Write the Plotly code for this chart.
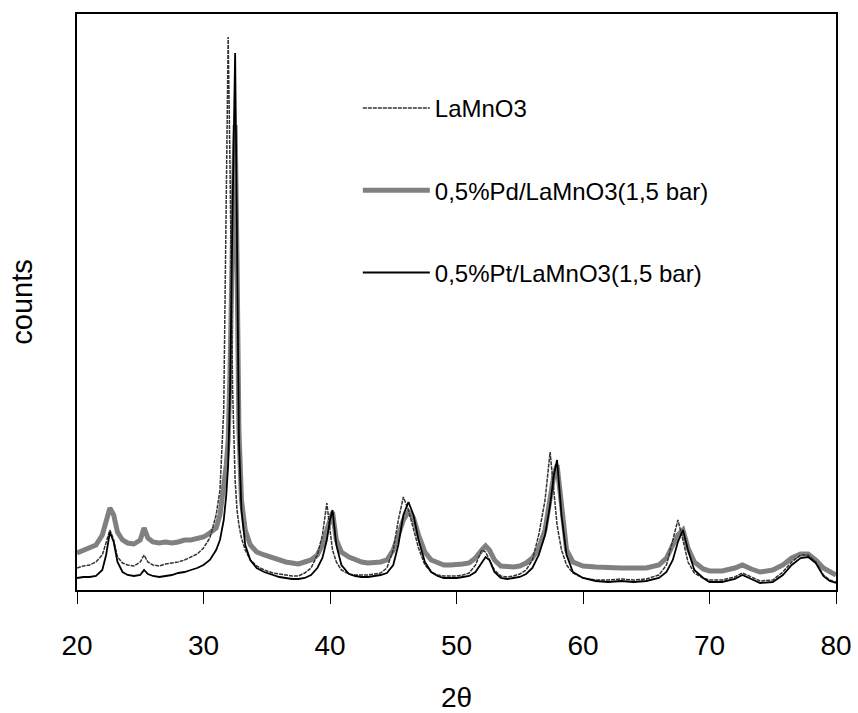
import plotly.graph_objects as go

two_theta = [20, 20.5, 21, 21.5, 22, 22.3, 22.6, 22.9, 23.2, 23.6, 24, 24.5, 25, 25.3, 25.6, 26, 26.5, 27, 27.5, 28,
             28.5, 29, 29.5, 30, 30.5, 31, 31.3, 31.6, 31.8, 31.95, 32.1, 32.3, 32.5, 32.65, 32.8, 33, 33.3, 33.7, 34.2, 34.8,
             35.5, 36, 36.5, 37, 37.5, 38, 38.5, 39, 39.4, 39.75, 40.0, 40.2, 40.5, 40.9, 41.5, 42, 42.5, 43, 43.5, 44,
             44.5, 45, 45.4, 45.8, 46.2, 46.6, 47, 47.5, 48, 48.5, 49, 49.5, 50, 50.5, 51, 51.5, 52, 52.3, 52.6, 53,
             53.5, 54, 54.5, 55, 55.5, 56, 56.5, 57, 57.4, 57.7, 57.95, 58.3, 58.7, 59.2, 60, 61, 62, 63, 64, 65,
             66, 66.6, 67.1, 67.5, 67.9, 68.3, 68.8, 69.5, 70, 71, 72, 72.6, 73.3, 74, 75, 75.8, 76.5, 77.2, 77.8, 78.4,
             79, 79.5, 80]

lamno3 = [22, 24, 25, 28, 35, 48, 60, 50, 33, 27, 25, 24, 28, 35, 28, 25, 24, 26, 27, 28,
          30, 33, 36, 42, 52, 75, 100, 180, 380, 553, 420, 200, 110, 80, 65, 52, 40, 30, 24, 20,
          17, 16, 15, 14, 14, 17, 22, 35, 55, 87, 60, 40, 28, 20, 16, 15, 15, 15, 16, 17,
          22, 40, 70, 93, 80, 62, 42, 25, 18, 15, 14, 14, 14, 15, 17, 25, 40, 38, 30, 20,
          14, 13, 14, 16, 20, 30, 55, 90, 138, 100, 65, 40, 25, 17, 12, 10, 10, 11, 10, 11,
          15, 25, 50, 70, 50, 28, 17, 12, 10, 10, 13, 17, 13, 9, 10, 18, 28, 35, 35, 28,
          15, 10, 8]

pd_lamno3 = [37, 40, 42, 45, 55, 70, 82, 75, 58, 50, 47, 46, 50, 62, 52, 48, 47, 48, 47, 48,
             50, 50, 52, 53, 57, 62, 75, 100, 125, 150, 220, 360, 465, 330, 160, 90, 60, 45, 38, 35,
             32, 30, 28, 27, 26, 28, 30, 35, 45, 60, 72, 78, 50, 38, 33, 30, 28, 27, 27, 28,
             30, 40, 55, 70, 78, 72, 55, 38, 30, 27, 25, 25, 25, 26, 27, 32, 40, 44, 40, 30,
             24, 23, 23, 24, 27, 32, 42, 60, 90, 115, 125, 80, 40, 28, 24, 23, 22, 22, 22, 22,
             25, 32, 45, 55, 60, 42, 28, 21, 19, 19, 22, 25, 21, 18, 20, 25, 32, 36, 36, 30,
             22, 18, 15]

pt_lamno3 = [12, 13, 13, 14, 20, 35, 58, 48, 28, 18, 15, 14, 15, 20, 16, 14, 13, 14, 15, 17,
             18, 20, 22, 25, 30, 40, 50, 70, 95, 125, 200, 380, 537, 350, 150, 80, 45, 30, 22, 18,
             15, 13, 12, 11, 11, 12, 15, 22, 32, 50, 70, 80, 45, 25, 16, 14, 13, 13, 14, 15,
             17, 25, 45, 75, 88, 75, 50, 28, 18, 14, 12, 12, 12, 13, 14, 18, 28, 33, 30, 18,
             12, 11, 12, 13, 16, 22, 35, 55, 85, 115, 130, 75, 35, 18, 12, 9, 8, 9, 8, 9,
             12, 18, 30, 48, 60, 40, 20, 12, 8, 8, 11, 15, 11, 7, 8, 15, 25, 32, 33, 27,
             14, 9, 7]

names = ["LaMnO3", "0,5%Pd/LaMnO3(1,5 bar)", "0,5%Pt/LaMnO3(1,5 bar)"]
x_ticks = [20, 30, 40, 50, 60, 70, 80]

fig = go.Figure()
fig.add_trace(go.Scatter(x=two_theta, y=pd_lamno3, mode="lines", name=names[1],
                         line=dict(color="#808080", width=5), legendgroup="b", legendrank=2))
fig.add_trace(go.Scatter(x=two_theta, y=lamno3, mode="lines", name=names[0],
                         line=dict(color="#333333", width=1.5, dash="4px,1px"), legendgroup="a", legendrank=1))
fig.add_trace(go.Scatter(x=two_theta, y=pt_lamno3, mode="lines", name=names[2],
                         line=dict(color="#000000", width=1.8), legendgroup="c", legendrank=3))

fig.update_layout(
    width=858, height=713,
    margin=dict(l=77, r=22, t=14, b=123),
    paper_bgcolor="white", plot_bgcolor="white",
    font=dict(family="Liberation Sans, Arial, sans-serif", color="black"),
    showlegend=True,
    legend=dict(x=0.37, y=0.875, xanchor="left", yanchor="top",
                bgcolor="rgba(0,0,0,0)", font=dict(size=24),
                itemwidth=67, tracegroupgap=48, traceorder="grouped"),
    xaxis=dict(range=[20, 80], tickvals=x_ticks, ticks="outside", ticklen=12, tickwidth=1,
               tickcolor="black", showline=True, linecolor="black", linewidth=1.5, mirror=True,
               showgrid=False, zeroline=False, tickfont=dict(size=28), ticklabelstandoff=18,
               automargin=False,
               title=dict(text="2θ", font=dict(size=28), standoff=30)),
    yaxis=dict(range=[0, 576], showticklabels=False, ticks="", showline=True,
               linecolor="black", linewidth=1.5, mirror=True, showgrid=False, zeroline=False,
               automargin=False,
               title=dict(text="counts", font=dict(size=29), standoff=34)),
)

fig.write_html("out.html")
